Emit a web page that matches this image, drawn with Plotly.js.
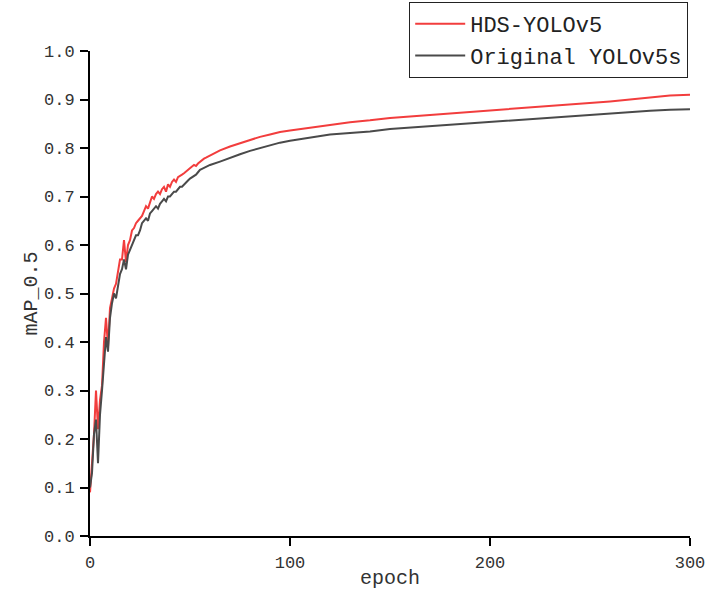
<!DOCTYPE html>
<html>
<head>
<meta charset="utf-8">
<script src="https://cdn.plot.ly/plotly-3.0.1.min.js"></script>
<style>html,body{margin:0;padding:0;background:#fff;}#chart{width:709px;height:590px;}</style>
</head>
<body>
<div id="chart"></div>
<script>
const epochs = [0,1,2,3,4,5,6,7,8,9,10,11,12,13,14,15,16,17,18,19,20,21,22,23,24,25,26,27,28,29,30,31,32,33,34,35,36,37,38,39,40,41,42,43,44,45,46,47,48,49,50,51,52,53,54,55,56,57,58,59,60,65,70,75,80,85,90,95,100,110,120,130,140,150,160,170,180,190,200,210,220,230,240,250,260,270,280,290,300];
const hdsMap = [0.09,0.15,0.21,0.30,0.22,0.28,0.31,0.40,0.45,0.39,0.47,0.49,0.51,0.52,0.55,0.57,0.57,0.61,0.565,0.60,0.61,0.63,0.635,0.645,0.65,0.655,0.66,0.67,0.68,0.675,0.69,0.70,0.695,0.705,0.71,0.705,0.715,0.72,0.71,0.725,0.72,0.73,0.735,0.73,0.74,0.742,0.745,0.748,0.752,0.756,0.76,0.762,0.765,0.763,0.768,0.772,0.775,0.778,0.78,0.782,0.785,0.795,0.803,0.81,0.817,0.823,0.828,0.833,0.836,0.842,0.848,0.853,0.857,0.862,0.865,0.868,0.872,0.875,0.878,0.881,0.884,0.887,0.89,0.893,0.896,0.90,0.904,0.908,0.91];
const origMap = [0.10,0.13,0.21,0.24,0.15,0.25,0.30,0.36,0.41,0.38,0.45,0.48,0.50,0.49,0.52,0.54,0.55,0.57,0.55,0.58,0.59,0.60,0.61,0.62,0.62,0.63,0.645,0.65,0.655,0.65,0.665,0.67,0.675,0.68,0.675,0.685,0.69,0.695,0.69,0.70,0.70,0.705,0.71,0.71,0.715,0.72,0.72,0.725,0.73,0.733,0.737,0.74,0.743,0.745,0.75,0.755,0.757,0.759,0.761,0.763,0.765,0.772,0.78,0.787,0.794,0.80,0.806,0.811,0.815,0.821,0.828,0.831,0.834,0.839,0.842,0.845,0.848,0.851,0.854,0.857,0.86,0.863,0.866,0.868,0.871,0.874,0.877,0.879,0.88];
const seriesNames = ["HDS-YOLOv5", "Original YOLOv5s"];
const yTickVals = [0,0.1,0.2,0.3,0.4,0.5,0.6,0.7,0.8,0.9,1.0];
const yTickLabels = ["0.0","0.1","0.2","0.3","0.4","0.5","0.6","0.7","0.8","0.9","1.0"];
const xTickVals = [0,100,200,300];
const xTickLabels = ["0","100","200","300"];

const mono = "Liberation Mono, DejaVu Sans Mono, monospace";
const traces = [
  {x: epochs, y: hdsMap, name: seriesNames[0], mode: "lines", line: {color: "#f23d3d", width: 2}},
  {x: epochs, y: origMap, name: seriesNames[1], mode: "lines", line: {color: "#4a4a4a", width: 2}}
];
const layout = {
  width: 709, height: 590,
  margin: {l: 90, r: 19, t: 51, b: 54, autoexpand: false},
  paper_bgcolor: "#fff", plot_bgcolor: "#fff",
  showlegend: true,
  legend: {
    x: 0.997, xanchor: "right", y: 1.101, yanchor: "top",
    bordercolor: "#222", borderwidth: 1, bgcolor: "#fff",
    font: {family: mono, size: 22, color: "#222"},
    tracegroupgap: 0, itemwidth: 50
  },
  xaxis: {
    range: [0, 300], tickvals: xTickVals, ticktext: xTickLabels,
    showgrid: false, zeroline: false, showline: true, linecolor: "#000", linewidth: 2,
    ticks: "outside", ticklen: 8, tickwidth: 2, tickcolor: "#000",
    ticklabelstandoff: 2,
    tickfont: {family: mono, size: 17, color: "#333"},
    title: {text: "epoch", font: {family: mono, size: 20, color: "#333"}, standoff: 0}
  },
  yaxis: {
    range: [0, 1], tickvals: yTickVals, ticktext: yTickLabels,
    showgrid: false, zeroline: false, showline: true, linecolor: "#000", linewidth: 2,
    ticks: "outside", ticklen: 8, tickwidth: 2, tickcolor: "#000",
    ticklabelstandoff: 2,
    tickfont: {family: mono, size: 17, color: "#333"},
    title: {text: "mAP_0.5", font: {family: mono, size: 20, color: "#333"}, standoff: 1}
  }
};
Plotly.newPlot("chart", traces, layout, {displayModeBar: false, staticPlot: true});
</script>
</body>
</html>
